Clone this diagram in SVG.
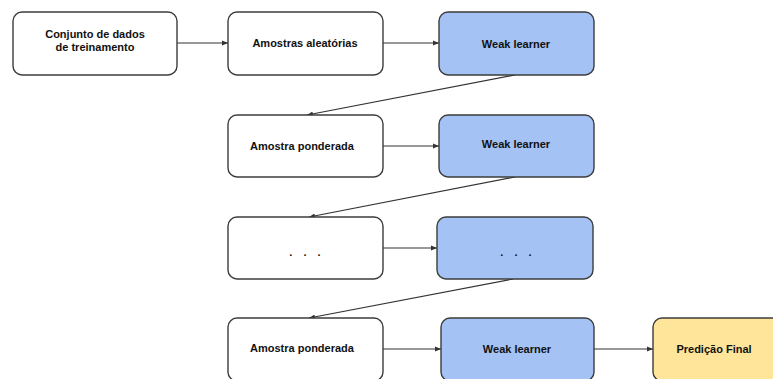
<svg xmlns="http://www.w3.org/2000/svg" width="773" height="379" viewBox="0 0 773 379">
  <style>
    .box { stroke: #3c3c3c; stroke-width: 1.4; }
    .plain { fill: #ffffff; }
    .learner { fill: #a4c2f4; }
    .final { fill: #ffe599; }
    .label { font-family: "Liberation Sans", Arial, sans-serif; font-size: 11px; font-weight: bold; fill: #111111; text-anchor: middle; }
    .dots { letter-spacing: 4px; }
    .edge { stroke: #333333; stroke-width: 1.2; fill: none; marker-end: url(#arrow); }
  </style>
  <defs>
    <marker id="arrow" viewBox="0 0 10 10" refX="10" refY="5" markerWidth="6" markerHeight="6" markerUnits="userSpaceOnUse" orient="auto">
      <path d="M0,1 L10,5 L0,9 Z" fill="#333333"/>
    </marker>
  </defs>
  <rect width="773" height="379" fill="#ffffff"/>

  <g id="connectors">
    <line class="edge" x1="177" y1="43" x2="228" y2="43"/>
    <line class="edge" x1="383" y1="43" x2="439" y2="43"/>
    <line class="edge" x1="515" y1="75" x2="307" y2="115"/>
    <line class="edge" x1="383" y1="146" x2="439" y2="146"/>
    <line class="edge" x1="515" y1="177" x2="309" y2="217"/>
    <line class="edge" x1="383" y1="248" x2="437" y2="248"/>
    <line class="edge" x1="513" y1="279" x2="309" y2="318"/>
    <line class="edge" x1="383" y1="349" x2="441" y2="349"/>
    <line class="edge" x1="594" y1="349" x2="653" y2="349"/>
  </g>

  <g id="dataset">
    <rect class="box plain" x="13" y="12" width="164" height="63" rx="9"/>
    <text class="label" x="95" y="38">Conjunto de dados</text>
    <text class="label" x="95" y="51">de treinamento</text>
  </g>
  <g id="random-samples">
    <rect class="box plain" x="228" y="12" width="155" height="63" rx="9"/>
    <text class="label" x="305" y="47">Amostras aleatórias</text>
  </g>
  <g id="learner-1">
    <rect class="box learner" x="439" y="12" width="155" height="63" rx="9"/>
    <text class="label" x="516" y="48">Weak learner</text>
  </g>

  <g id="weighted-1">
    <rect class="box plain" x="228" y="115" width="155" height="62" rx="9"/>
    <text class="label" x="302" y="150">Amostra ponderada</text>
  </g>
  <g id="learner-2">
    <rect class="box learner" x="439" y="115" width="155" height="62" rx="9"/>
    <text class="label" x="516" y="148">Weak learner</text>
  </g>

  <g id="weighted-n">
    <rect class="box plain" x="228" y="217" width="155" height="62" rx="9"/>
    <text class="label dots" x="307" y="256">. . .</text>
  </g>
  <g id="learner-n">
    <rect class="box learner" x="437" y="217" width="156" height="62" rx="9"/>
    <text class="label dots" x="518" y="256">. . .</text>
  </g>

  <g id="weighted-last">
    <rect class="box plain" x="228" y="318" width="155" height="63" rx="9"/>
    <text class="label" x="302" y="352">Amostra ponderada</text>
  </g>
  <g id="learner-last">
    <rect class="box learner" x="441" y="318" width="153" height="63" rx="9"/>
    <text class="label" x="517" y="353">Weak learner</text>
  </g>
  <g id="final-prediction">
    <rect class="box final" x="653" y="318" width="130" height="63" rx="9"/>
    <text class="label" x="714" y="353">Predição Final</text>
  </g>
</svg>
